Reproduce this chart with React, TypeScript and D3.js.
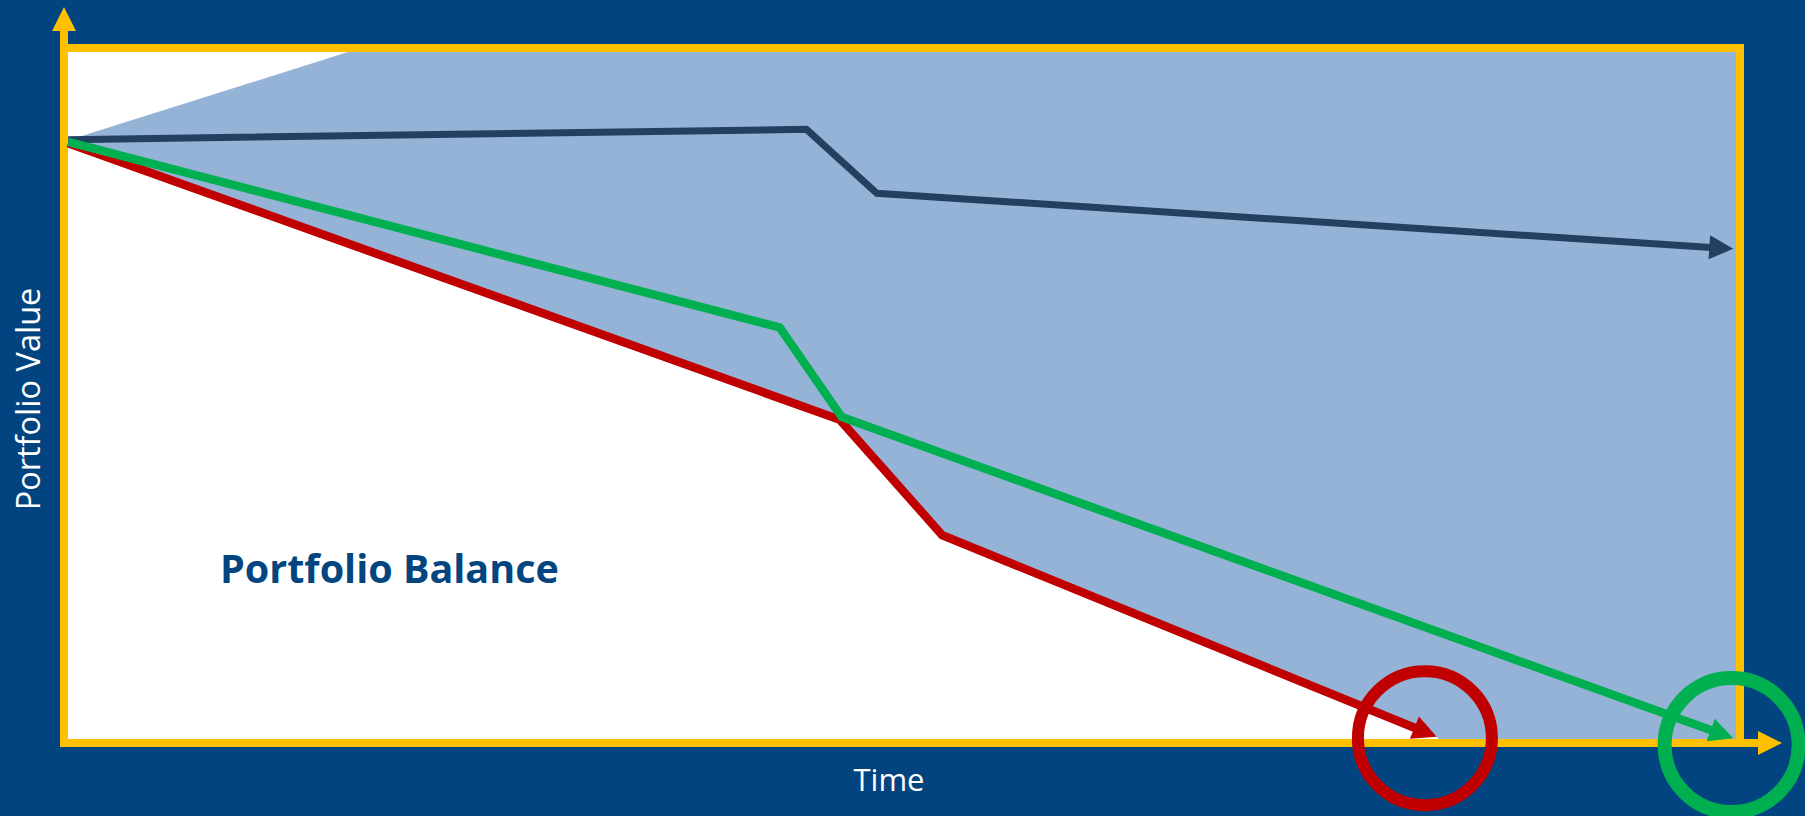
import React from "react";
import * as d3 from "d3";

// Schematic portfolio paths: time (0–100) vs portfolio value (0–100)
const navyPath: [number, number][] = [
  [0.25, 86.8],
  [44.3, 88.3],
  [48.5, 79.1],
  [99.6, 71.1],
];
const greenPath: [number, number][] = [
  [0.25, 86.5],
  [42.7, 59.8],
  [46.4, 46.9],
  [99.6, 0.7],
];
const redPath: [number, number][] = [
  [0.25, 86.3],
  [46.3, 46.5],
  [52.4, 29.9],
  [81.9, 0.9],
];
// Upper corner of the shaded balance band
const bandTop: [number, number] = [17.7, 100];
// Points where the paths run out
const endMarkers = [
  { at: [81.2, 0.7] as [number, number], color: "#C00000", width: 12 },
  { at: [99.5, -0.3] as [number, number], color: "#00B050", width: 14 },
];

const axisTitleX = "Time";
const axisTitleY = "Portfolio Value";
const bandLabel = "Portfolio Balance";

const W = 1805;
const H = 816;
const BG = "#01447F";
const YELLOW = "#FFC000";
const FONT = "'Open Sans', Lato, sans-serif";

const x = d3.scaleLinear().domain([0, 100]).range([64, 1740]);
const y = d3.scaleLinear().domain([0, 100]).range([743, 48]);

const line = d3
  .line<[number, number]>()
  .x((d) => d[0])
  .y((d) => d[1]);

function arrowPath(
  pts: [number, number][],
  color: string,
  width: number,
  len = 24,
  half = 12
) {
  const px = pts.map((p) => [x(p[0]), y(p[1])] as [number, number]);
  const [tx, ty] = px[px.length - 1];
  const [ax, ay] = px[px.length - 2];
  const dx = tx - ax;
  const dy = ty - ay;
  const L = Math.hypot(dx, dy);
  const ux = dx / L;
  const uy = dy / L;
  const bx = tx - ux * len;
  const by = ty - uy * len;
  const shaft = [...px.slice(0, -1), [bx + ux * 2, by + uy * 2] as [number, number]];
  const head = [
    [tx, ty],
    [bx - uy * half, by + ux * half],
    [bx + uy * half, by - ux * half],
  ];
  return (
    <g>
      <path
        d={line(shaft) ?? ""}
        fill="none"
        stroke={color}
        strokeWidth={width}
        strokeLinejoin="miter"
      />
      <polygon points={head.map((p) => p.join(",")).join(" ")} fill={color} />
    </g>
  );
}

export default function App() {
  const left = x(0);
  const right = x(100);
  const top = y(100);
  const bottom = y(0);

  // Band between the top frame and the lowest path
  const band: [number, number][] = [
    [x(redPath[0][0]), y(redPath[0][1]) - 3],
    [x(bandTop[0]), y(bandTop[1])],
    [right, top],
    [right, bottom],
    [x(redPath[redPath.length - 1][0]) + 6, bottom],
    ...redPath
      .slice()
      .reverse()
      .map((p) => [x(p[0]), y(p[1])] as [number, number]),
  ];

  return (
    <svg
      width={W}
      height={H}
      style={{ position: "absolute", left: 0, top: 0, display: "block" }}
    >
      <rect x={0} y={0} width={W} height={H} fill={BG} />
      <rect x={left} y={top} width={right - left} height={bottom - top} fill="#FFFFFF" />
      <path d={(line(band) ?? "") + "Z"} fill="#95B3D7" />

      {/* frame and axes */}
      <g stroke={YELLOW} strokeWidth={8} fill="none">
        <line x1={left - 4} y1={top} x2={right + 4} y2={top} />
        <line x1={right} y1={top - 4} x2={right} y2={bottom + 4} />
        <line x1={left} y1={bottom + 4} x2={left} y2={30} />
        <line x1={left - 4} y1={bottom} x2={1760} y2={bottom} />
      </g>
      <polygon
        points={`${left},7 ${left - 12},31 ${left + 12},31`}
        fill={YELLOW}
      />
      <polygon
        points={`1782,${bottom} 1758,${bottom - 12} 1758,${bottom + 12}`}
        fill={YELLOW}
      />

      {arrowPath(navyPath, "#243F60", 7)}
      {arrowPath(redPath, "#C00000", 8.5)}
      {arrowPath(greenPath, "#00B050", 8.5)}

      {endMarkers.map((m, i) => (
        <circle
          key={i}
          cx={x(m.at[0])}
          cy={y(m.at[1])}
          r={67}
          fill="none"
          stroke={m.color}
          strokeWidth={m.width}
        />
      ))}

      <text
        x={220}
        y={583}
        fontFamily={FONT}
        fontWeight={700}
        fontSize={39.5}
        fill="#02457F"
      >
        {bandLabel}
      </text>
      <text
        x={889}
        y={791}
        textAnchor="middle"
        fontFamily={FONT}
        fontSize={31}
        fill="#FFFFFF"
      >
        {axisTitleX}
      </text>
      <text
        transform={`translate(40,399) rotate(-90)`}
        textAnchor="middle"
        fontFamily={FONT}
        fontSize={32.5}
        fill="#FFFFFF"
      >
        {axisTitleY}
      </text>
    </svg>
  );
}
